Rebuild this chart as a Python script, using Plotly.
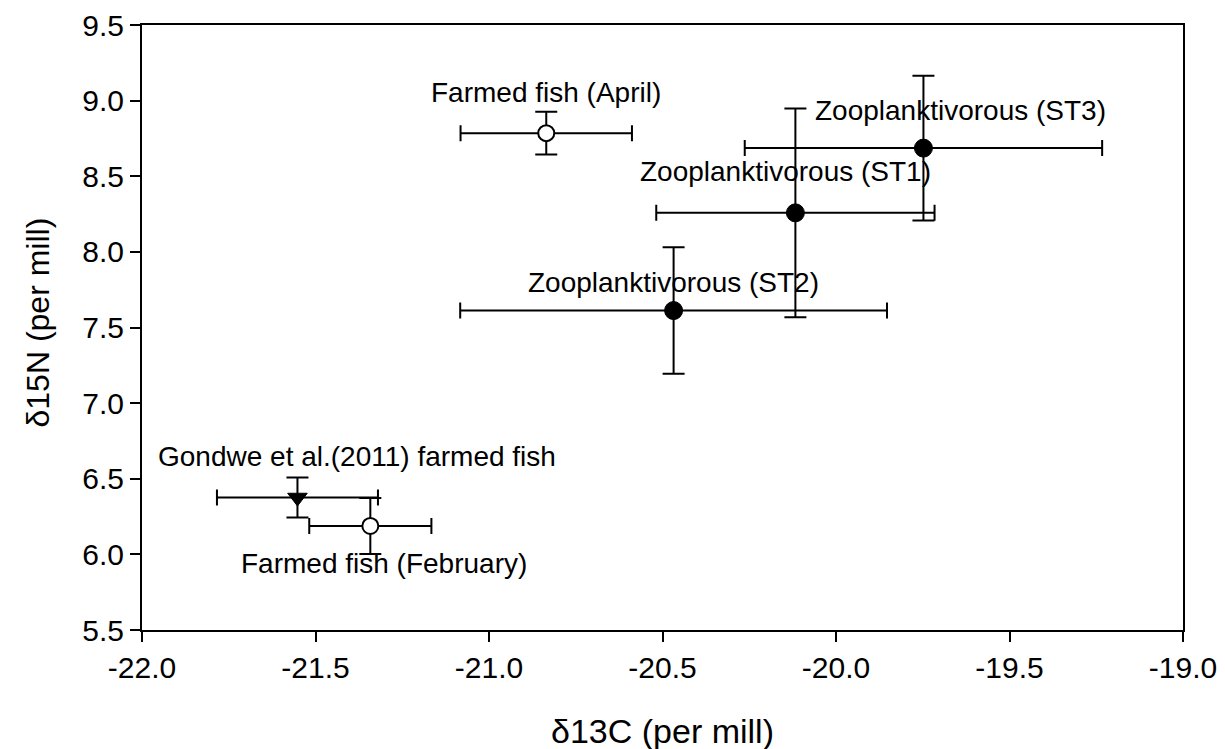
import plotly.graph_objects as go

# Data
labels = ["Farmed fish (April)", "Zooplanktivorous (ST3)", "Zooplanktivorous (ST1)",
          "Zooplanktivorous (ST2)", "Gondwe et al.(2011) farmed fish", "Farmed fish (February)"]
d13c = [-20.835, -19.748, -20.117, -20.468, -21.552, -21.342]
d13c_err = [0.247, 0.515, 0.401, 0.615, 0.232, 0.176]
d15n = [8.785, 8.686, 8.258, 7.612, 6.376, 6.188]
d15n_err = [0.142, 0.478, 0.690, 0.418, 0.132, 0.185]
groups = ["open", "filled", "filled", "filled", "triangle", "open"]

x_tickvals = [-22.0, -21.5, -21.0, -20.5, -20.0, -19.5, -19.0]
x_ticktext = ["-22.0", "-21.5", "-21.0", "-20.5", "-20.0", "-19.5", "-19.0"]
y_tickvals = [5.5, 6.0, 6.5, 7.0, 7.5, 8.0, 8.5, 9.0, 9.5]
y_ticktext = ["5.5", "6.0", "6.5", "7.0", "7.5", "8.0", "8.5", "9.0", "9.5"]

# Label offsets in pixels relative to each point (xshift, yshift, anchor)
label_shift = [(0, 41, "center"), (37, 38, "center"), (-10, 41, "center"),
               (0, 28, "center"), (-141, 41, "left"), (-131, -38, "left")]

FONT = "Liberation Sans, Arial, sans-serif"

styles = {
    "open": dict(symbol="circle", size=16, color="white", line=dict(color="black", width=2)),
    "filled": dict(symbol="circle", size=18, color="black", line=dict(color="black", width=1)),
    "triangle": dict(symbol="triangle-down", size=17, color="black", line=dict(color="black", width=1)),
}

fig = go.Figure()
for g in ["open", "filled", "triangle"]:
    idx = [i for i, gg in enumerate(groups) if gg == g]
    fig.add_trace(go.Scatter(
        x=[d13c[i] for i in idx], y=[d15n[i] for i in idx], mode="markers",
        marker=styles[g],
        error_x=dict(type="data", array=[d13c_err[i] for i in idx], color="black",
                     thickness=2, width=8),
        error_y=dict(type="data", array=[d15n_err[i] for i in idx], color="black",
                     thickness=2, width=11),
        showlegend=False, hoverinfo="skip"))

for i, t in enumerate(labels):
    xs, ys, anc = label_shift[i]
    fig.add_annotation(x=d13c[i], y=d15n[i], text=t, showarrow=False,
                       xshift=xs, yshift=ys, xanchor=anc, yanchor="middle",
                       font=dict(family=FONT, size=28, color="black"))

axis_common = dict(showline=True, linecolor="black", linewidth=2, mirror=True,
                   ticks="outside", ticklen=10, tickwidth=2, tickcolor="black",
                   showgrid=False, zeroline=False, automargin=False,
                   tickfont=dict(family=FONT, size=30, color="black"))

fig.update_xaxes(range=[-22, -19], tickvals=x_tickvals, ticktext=x_ticktext, **axis_common)
fig.update_yaxes(range=[5.5, 9.5], tickvals=y_tickvals, ticktext=y_ticktext, **axis_common)

# Axis titles
fig.add_annotation(x=0.5, y=0, xref="paper", yref="paper", text="δ13C (per mill)",
                   showarrow=False, xanchor="center", yanchor="middle", yshift=-101,
                   font=dict(family=FONT, size=34, color="black"))
fig.add_annotation(x=0, y=0.5, xref="paper", yref="paper", text="δ15N (per mill)",
                   showarrow=False, textangle=-90, xanchor="center", yanchor="middle",
                   xshift=-105, yshift=5,
                   font=dict(family=FONT, size=32, color="black"))

fig.update_layout(width=1225, height=749, margin=dict(l=142, r=42, t=25, b=119),
                  paper_bgcolor="white", plot_bgcolor="white")

fig.write_html("out.html")
